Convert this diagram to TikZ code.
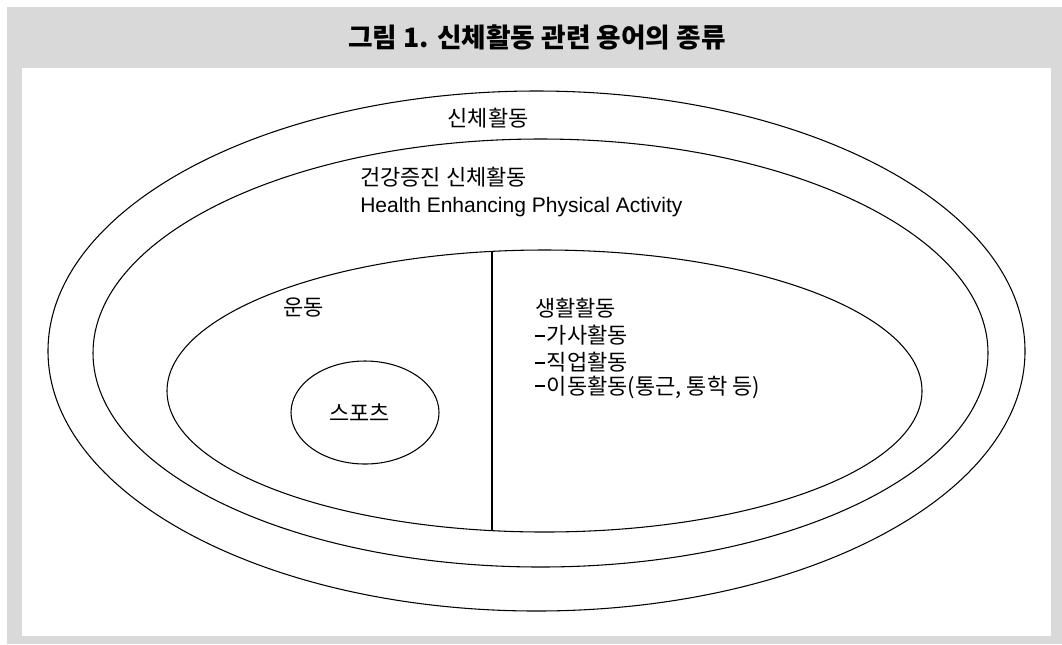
\documentclass[tikz,border=0pt]{standalone}
\usepackage{fontspec}
\setmainfont{Noto Sans CJK KR}
\newfontfamily\latinfont{Liberation Sans}
\usetikzlibrary{shapes.geometric}
\definecolor{framegray}{RGB}{217,217,217}
\newcommand{\ldash}{\rule[5.1pt]{7.5pt}{1.5pt}\hspace{1.2pt}}
\begin{document}
\begin{tikzpicture}[x=0.75pt,y=0.75pt,
  ring/.style={ellipse, draw=black, line width=0.8pt, inner sep=0pt},
  lbl/.style={inner sep=0pt, anchor=west, font=\fontsize{16.5}{19}\selectfont},
  clbl/.style={inner sep=0pt, font=\fontsize{16.5}{19}\selectfont}]
\useasboundingbox (0,0) rectangle (1062,-644);
\fill[framegray] (7,-7) rectangle (1062,-644);
\fill[white] (22,-68) rectangle (1051,-636);
\node[inner sep=0pt, font=\bfseries\fontsize{20}{24}\selectfont] (title) at (537,-37) {그림 1. 신체활동 관련 용어의 종류};
% ellipses
\node[ring, minimum width=732.75pt, minimum height=390pt] (outer) at (536.5,-351) {};
\node[ring, minimum width=671.25pt, minimum height=321pt] (hepa) at (540.5,-353) {};
\node[ring, minimum width=566.25pt, minimum height=211.5pt] (inner) at (544.5,-391) {};
\node[ring, minimum width=111pt, minimum height=77.25pt] (sport) at (365,-412.5) {};
\coordinate (dtop) at (492,-251.4);
\coordinate (dbot) at (492,-530.6);
\draw[line width=0.8pt] (dtop) -- (dbot);
% labels
\node[clbl] (pa) at (488,-118) {신체활동};
\node[lbl] (hepak) at (360,-177) {건강증진 신체활동};
\node[lbl, font=\latinfont\fontsize{15.75}{18}\selectfont] (hepae) at (360,-207) {Health Enhancing Physical Activity};
\node[lbl] (ex) at (283,-307) {운동};
\node[clbl] (sp) at (359.5,-413) {스포츠};
\node[lbl] (la) at (535,-308) {생활활동};
\node[lbl] (la1) at (535,-335) {\ldash 가사활동};
\node[lbl] (la2) at (535,-362) {\ldash 직업활동};
\node[lbl] (la3) at (535,-387) {\ldash 이동활동(통근, 통학 등)};
\end{tikzpicture}
\end{document}
